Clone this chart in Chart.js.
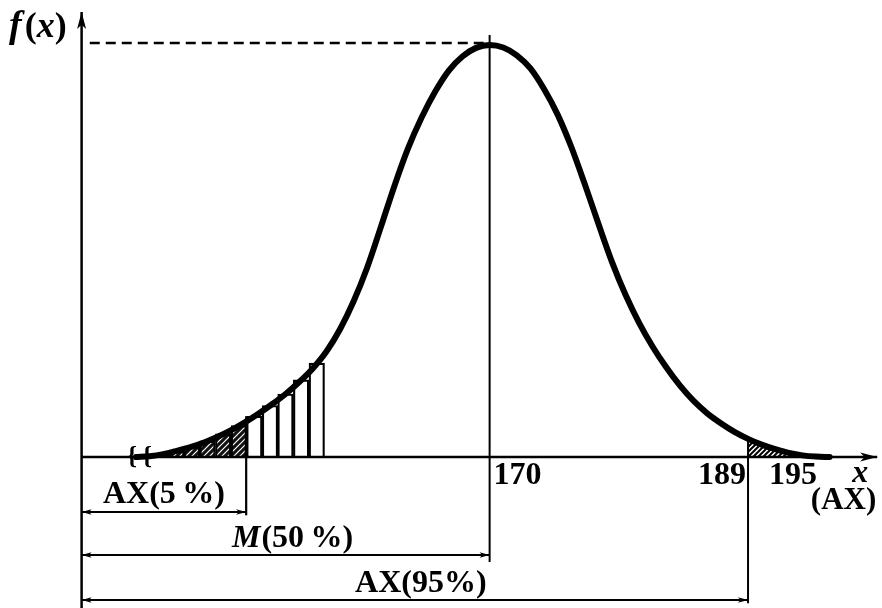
<!DOCTYPE html>
<html><head><meta charset="utf-8">
<script src="https://cdn.jsdelivr.net/npm/chart.js@4.4.0/dist/chart.umd.min.js"></script>
<style>html,body{margin:0;padding:0;background:#fff}#wrap{width:882px;height:608px;position:relative}</style>
</head><body><div id="wrap"><canvas id="c"></canvas></div>
<script>
// ---- data ----
const curveX = [144,145,146,147,148,149,150,151,152,153,154,155,156,157,158,159,160,161,162,163,164,165,166,167,168,169,170,171,172,173,174,175,176,177,178,179,180,181,182,183,184,185,186,187,188,189,190,191,192,193,194,195];
const curveY = [0,0.2,0.7,1.5,2.4,3.5,4.9,6.5,8.4,10.5,12.8,15.3,18.2,21.5,25.6,31.0,37.8,46.0,55.8,65.8,74.9,82.4,88.7,93.8,97.2,99.3,100,99.4,97.5,94.3,89.3,83.1,75.3,66.2,56.6,47.3,39.3,32.5,26.7,21.7,17.3,13.6,10.6,8.2,6.1,4.4,3.0,1.9,1.0,0.4,0.1,0];
const binLowX = [146.97,148.12,149.26,150.41,151.56];
const binLowY = [1.5,2.5,3.9,5.6,7.6];
const binMidX = [152.70,153.85,154.99,156.14,157.29];
const binMidY = [9.9,12.5,15.3,18.7,22.8];
const tailX = [189,190,191,192,193,194,195];
const tailY = [4.4,3.0,1.9,1.0,0.4,0.1,0];
const AX5 = 152.1, M50 = 170, AX95 = 189, PEAK = 100;
const tickLabels = ['170','189','195'];
const dimLabels = ['AX(5\u2009%)','(50\u2009%)','AX(95%)'];

// ---- layout constants (axis ranges / rows below the axis) ----
const X_MIN = 134, X_MAX = 198.85, Y_MIN = -36.65, Y_MAX = 110.92;
const AXIS_X0 = 140, AXIS_X1 = 198.5, AXIS_YTOP = 108;
const ROW5 = -13.35, ROW50 = -23.8, ROW95 = -34.7;

const ctxMain = document.getElementById('c').getContext('2d');
function makePattern(bg, fg, size, lw){
  const c = document.createElement('canvas'); c.width = c.height = size;
  const g = c.getContext('2d'); g.fillStyle = bg; g.fillRect(0,0,size,size);
  g.strokeStyle = fg; g.lineWidth = lw; g.beginPath();
  g.moveTo(0,size); g.lineTo(size,0);
  g.moveTo(-size/2,size/2); g.lineTo(size/2,-size/2);
  g.moveTo(size/2,size*1.5); g.lineTo(size*1.5,size/2);
  g.stroke();
  return ctxMain.createPattern(c,'repeat');
}
const darkHatch = makePattern('#111','#fff',6,1.2);
const lightHatch = makePattern('#fff','#000',5,2);

const pts = (xs, ys) => xs.map((x,i)=>({x, y: ys[i]}));
const seg = (x0,y0,x1,y1) => [{x:x0,y:y0},{x:x1,y:y1}];
function lineDs(data, extra){
  return Object.assign({type:'line', data, borderColor:'#000', borderWidth:2, pointRadius:0, fill:false, tension:0, order:1}, extra||{});
}

const datasets = [
  lineDs(pts(curveX,curveY), {borderWidth:6, cubicInterpolationMode:'monotone', order:0, borderCapStyle:'round', borderJoinStyle:'round'}),
  lineDs(seg(AXIS_X0,Y_MIN,AXIS_X0,AXIS_YTOP), {borderWidth:2.5, arrows:{end:true,len:17,w:4.5}}),
  lineDs(seg(AXIS_X0,0,AXIS_X1,0), {borderWidth:2.5, arrows:{end:true,len:17,w:4.5}}),
  lineDs(seg(AXIS_X0+0.6,PEAK+0.5,M50-0.2,PEAK+0.5), {borderWidth:2.5, borderDash:[10,6]}),
  lineDs(seg(M50,ROW50-1.7,M50,PEAK+2.4), {borderWidth:2}),
  lineDs(seg(AX5,ROW5-0.8,AX5,binMidY[0]), {borderWidth:2.2}),
  lineDs(seg(AX95,ROW95-0.8,AX95,tailY[0]), {borderWidth:2}),
  lineDs(seg(AXIS_X0,ROW5,AX5,ROW5), {borderWidth:2, arrows:{start:true,end:true,len:10,w:2.8}}),
  lineDs(seg(AXIS_X0,ROW50,M50,ROW50), {borderWidth:2, arrows:{start:true,end:true,len:10,w:2.8}}),
  lineDs(seg(AXIS_X0,ROW95,AX95,ROW95), {borderWidth:2, arrows:{start:true,end:true,len:10,w:2.8}}),
  {type:'bar', data:pts(binMidX,binMidY), backgroundColor:'#fff', borderColor:'#000', borderWidth:2.2, borderSkipped:'start', barPercentage:1, categoryPercentage:1, grouped:false, order:5},
  {type:'bar', data:pts(binLowX,binLowY), backgroundColor:darkHatch, borderColor:'#000', borderWidth:2.2, borderSkipped:'start', barPercentage:1, categoryPercentage:1, grouped:false, order:5},
  lineDs(pts(tailX,tailY), {borderWidth:0, fill:'origin', backgroundColor:lightHatch, cubicInterpolationMode:'monotone', order:6})
];

const arrowPlugin = {
  id:'arrows',
  afterDatasetsDraw(chart){
    const ctx = chart.ctx;
    chart.data.datasets.forEach((ds,i)=>{
      if(!ds.arrows) return;
      const p = chart.getDatasetMeta(i).data;
      const head = (tip, from) => {
        const dx = tip.x-from.x, dy = tip.y-from.y, d = Math.hypot(dx,dy), ux = dx/d, uy = dy/d;
        const L = ds.arrows.len, W = ds.arrows.w;
        ctx.beginPath();
        ctx.moveTo(tip.x, tip.y);
        ctx.lineTo(tip.x-ux*L-uy*W, tip.y-uy*L+ux*W);
        ctx.lineTo(tip.x-ux*L*0.75, tip.y-uy*L*0.75);
        ctx.lineTo(tip.x-ux*L+uy*W, tip.y-uy*L-ux*W);
        ctx.closePath(); ctx.fill();
      };
      ctx.save(); ctx.fillStyle = '#000';
      if(ds.arrows.end) head(p[p.length-1], p[0]);
      if(ds.arrows.start) head(p[0], p[p.length-1]);
      ctx.restore();
    });
  }
};

const SERIF = '"Liberation Serif","Times New Roman",serif';
const textPlugin = {
  id:'texts',
  afterDraw(chart){
    const ctx = chart.ctx, xs = chart.scales.x, ys = chart.scales.y;
    const y0 = ys.getPixelForValue(0);
    ctx.save(); ctx.fillStyle = '#000'; ctx.textBaseline = 'alphabetic';
    const t = (s, x, y, font, align) => { ctx.font = font; ctx.textAlign = align || 'left'; ctx.fillText(s, x, y); };
    const F = 'bold 32px ' + SERIF, FI = 'italic bold 32px ' + SERIF;
    // tick labels
    t(tickLabels[0], xs.getPixelForValue(M50)+4, y0+27, F);
    t(tickLabels[1], xs.getPixelForValue(AX95)-2, y0+27, F, 'right');
    t(tickLabels[2], xs.getPixelForValue(AX95)+21, y0+27, F);
    t('x', xs.getPixelForValue(AXIS_X1)-9, y0+25, FI, 'right');
    t('(AX)', xs.getPixelForValue(AXIS_X1)-1, y0+52, 'bold 31px ' + SERIF, 'right');
    // axis title f(x)
    const TF = 'italic bold 38px ' + SERIF, TP = 'bold 36px ' + SERIF, TX = 'italic bold 36px ' + SERIF;
    let cx = 9;
    t('f', cx, 37, TF); ctx.font = TF; cx += ctx.measureText('f').width + 3;
    t('(', cx, 37, TP); ctx.font = TP; cx += ctx.measureText('(').width;
    t('x', cx, 37, TX); ctx.font = TX; cx += ctx.measureText('x').width;
    t(')', cx, 37, TP);
    // dimension labels
    const r5 = ys.getPixelForValue(ROW5), r50 = ys.getPixelForValue(ROW50), r95 = ys.getPixelForValue(ROW95);
    const ax0 = xs.getPixelForValue(AXIS_X0);
    t(dimLabels[0], (ax0+xs.getPixelForValue(AX5))/2, r5-9, F, 'center');
    ctx.font = FI; const mw = ctx.measureText('M').width;
    const mx = 232;
    t('M', mx, r50-8, FI); t(dimLabels[1], mx+mw+1, r50-8, F);
    t(dimLabels[2], (ax0+xs.getPixelForValue(AX95))/2+6, r95-8, F, 'center');
    // axis break marks
    t('{', xs.getPixelForValue(143.7), y0+7, 'bold 26px ' + SERIF, 'center');
    t('{', xs.getPixelForValue(144.8), y0+7, 'bold 26px ' + SERIF, 'center');
    ctx.restore();
  }
};

new Chart(ctxMain, {
  type:'line',
  data:{datasets},
  options:{
    responsive:true, maintainAspectRatio:false, animation:false,
    layout:{padding:0},
    plugins:{legend:{display:false}, tooltip:{enabled:false}},
    scales:{
      x:{type:'linear', min:X_MIN, max:X_MAX, display:false, offset:false},
      y:{type:'linear', min:Y_MIN, max:Y_MAX, display:false}
    }
  },
  plugins:[arrowPlugin, textPlugin]
});
</script></body></html>
